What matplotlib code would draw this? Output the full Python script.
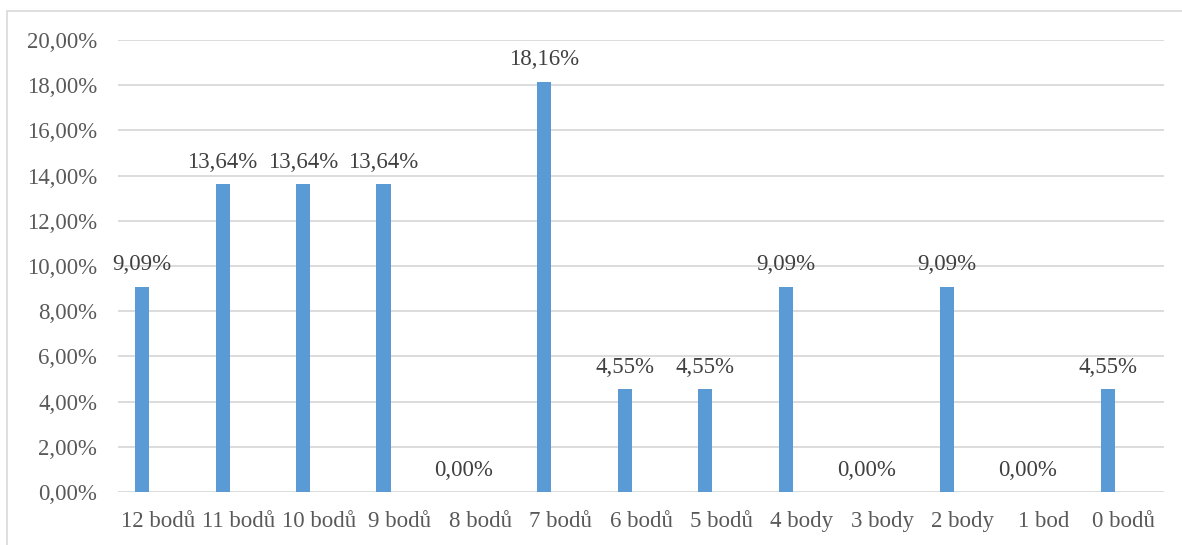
import numpy as np
import matplotlib.pyplot as plt
from matplotlib.patches import Rectangle

categories = ['12 bodů', '11 bodů', '10 bodů', '9 bodů', '8 bodů', '7 bodů', '6 bodů',
              '5 bodů', '4 body', '3 body', '2 body', '1 bod', '0 bodů']
shares = [9.09, 13.64, 13.64, 13.64, 0.00, 18.16, 4.55, 4.55, 9.09, 0.00, 9.09, 0.00, 4.55]
yticks = [0, 2, 4, 6, 8, 10, 12, 14, 16, 18, 20]

plt.rcParams['font.family'] = ['Liberation Serif', 'DejaVu Serif']
text_color = '#595959'
bar_color = '#5B9BD5'

fig = plt.figure(figsize=(11.82, 5.45), dpi=100)
ax = fig.add_axes([118 / 1182, 53 / 545, 1046 / 1182, 452 / 545])

x = np.arange(len(categories))
bars = ax.bar(x - 0.2, shares, width=0.175, color=bar_color, zorder=3)

for xi, v in zip(x, shares):
    ax.annotate(f'{v:.2f}%'.replace('.', ','), (xi - 0.2, v), xytext=(0, 8),
                textcoords='offset points', ha='center', va='bottom',
                fontsize=16.5, color='#404040')

ax.set_xlim(-0.5, len(categories) - 0.5)
ax.set_ylim(0, 20)
ax.set_yticks(yticks)
ax.set_yticklabels([f'{t:.2f}%'.replace('.', ',') for t in yticks])
ax.set_xticks(x)
ax.set_xticklabels(categories)
ax.tick_params(axis='both', length=0, labelsize=16.5, labelcolor=text_color)
ax.tick_params(axis='y', pad=15)
ax.tick_params(axis='x', pad=14)
ax.grid(axis='y', color='#D9D9D9', linewidth=1.3, zorder=0)
for s in ax.spines.values():
    s.set_visible(False)

# outer chart frame, open to the right and bottom
top = 1 - 11 / 545
fig.patches.append(Rectangle((7 / 1182, -0.05), 1.2, top + 0.05,
                             transform=fig.transFigure, fill=False,
                             edgecolor='#D9D9D9', linewidth=1.2))

fig.savefig('out.png', dpi=100)
